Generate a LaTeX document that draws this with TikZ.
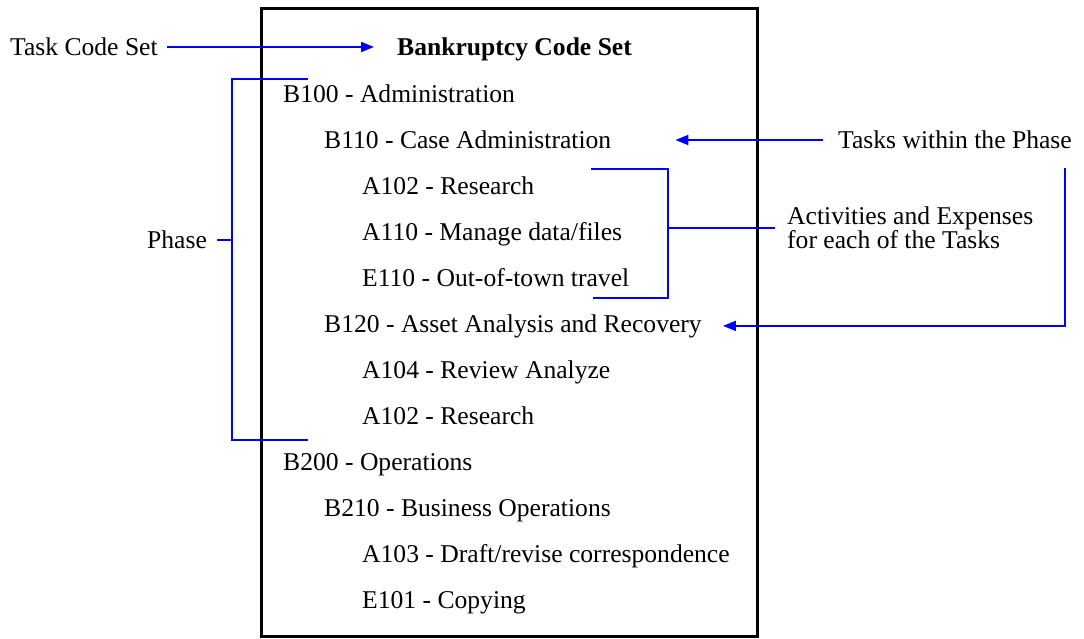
\documentclass[tikz,border=0pt]{standalone}
\usepackage{fontspec}
\setmainfont{Liberation Serif}
\usetikzlibrary{arrows.meta}
\tikzset{
  code box/.style={
    draw=black,
    line width=3pt,
    minimum width={#1},
    minimum height={628pt},
  },
  entry/.style={
    anchor=base west,
    inner sep=0pt,
    font=\fontsize{25.6}{24}\selectfont,
  },
  heading/.style={
    entry,
    font=\fontsize{25.6}{24}\selectfont\bfseries,
  },
  annotation/.style={
    anchor=west,
    inner sep=0pt,
    align=left,
    font=\fontsize{25.6}{24}\selectfont,
  },
  link/.style={
    draw=blue,
    line width=2pt,
  },
  pointer/.style={
    link,
    -{Triangle[length=13pt,width=10pt]},
  }
}
\begin{document}
\begin{tikzpicture}[x=1pt, y=-1pt]
        \useasboundingbox (0,0) rectangle (1084,638);
        \node [code box=496pt] (set) at (509,322) {};

        \node [heading] (title) at (397,55) {Bankruptcy Code Set};
        \node [entry] (b100) at (283,102) {B100 - Administration};
        \node [entry] (b110) at (324,148) {B110 - Case Administration};
        \node [entry] (a102) at (362,194) {A102 - Research};
        \node [entry] (a110) at (362,240) {A110 - Manage data/files};
        \node [entry] (e110) at (362,286) {E110 - Out-of-town travel};
        \node [entry] (b120) at (324,332) {B120 - Asset Analysis and Recovery};
        \node [entry] (a104) at (362,378) {A104 - Review Analyze};
        \node [entry] (a102b) at (362,424) {A102 - Research};
        \node [entry] (b200) at (283,470) {B200 - Operations};
        \node [entry] (b210) at (324,516) {B210 - Business Operations};
        \node [entry] (a103) at (362,562) {A103 - Draft/revise correspondence};
        \node [entry] (e101) at (362,608) {E101 - Copying};

        \node [annotation] (tcs) at (10,47) {Task Code Set};
        \node [annotation] (phase) at (147,240) {Phase};
        \node [annotation] (tasks) at (838,140) {Tasks within the Phase};
        \node [annotation] (act) at (787,228) {Activities and Expenses\\for each of the Tasks};

        \coordinate (ph top) at (308,79);
        \coordinate (ph mid) at (232,240);
        \coordinate (ph bot) at (308,440);
        \coordinate (ac top) at (591,169);
        \coordinate (ac mid) at (668,228);
        \coordinate (ac bot) at (593,298);

        \draw [pointer, shorten <=9pt, shorten >=23pt] (tcs.east) -- (tcs.east -| title.west);
        \draw [link] (ph top) -| (ph mid) |- (ph bot);
        \draw [link, shorten <=10pt] (phase.east) -- (ph mid);
        \draw [pointer, shorten <=15pt, shorten >=64pt] (tasks.west) -- (tasks.west -| b110.east);
        \draw [pointer, shorten >=21pt] ([xshift=-7pt, yshift=-19pt]tasks.south east) |- (b120.east);
        \draw [link] (ac top) -| (ac mid) |- (ac bot);
        \draw [link, shorten >=12pt] (ac mid) -- (act.west);
    \end{tikzpicture}
\end{document}
